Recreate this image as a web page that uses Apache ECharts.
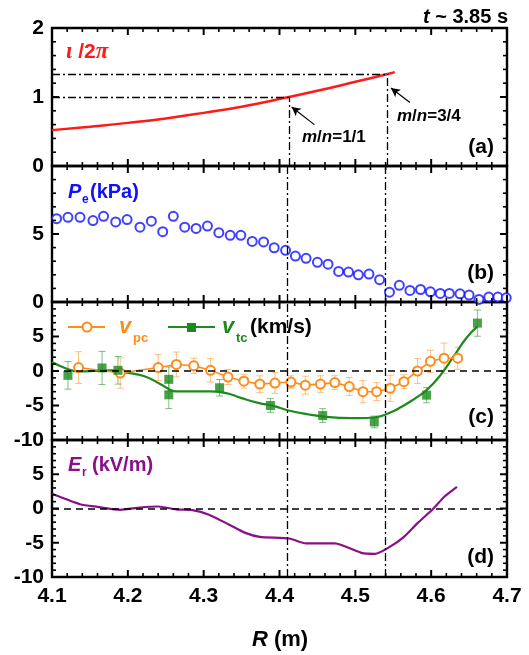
<!DOCTYPE html>
<html><head><meta charset="utf-8">
<script src="https://cdn.jsdelivr.net/npm/echarts@6/dist/echarts.min.js"></script>
<style>html,body{margin:0;padding:0;background:#fff}#c{width:529px;height:655px}</style>
</head><body><div id="c"></div>
<script>
// ---------- data ----------
const xTickLabels = ['4.1','4.2','4.3','4.4','4.5','4.6','4.7'];
const xRange = [4.1, 4.7, 0.1];
// (a) rotational transform
const iotaR = [4.10, 4.15, 4.20, 4.25, 4.30, 4.35, 4.4125, 4.45, 4.50, 4.5425, 4.552];
const iotaV = [0.52, 0.57, 0.625, 0.69, 0.77, 0.86, 1.00, 1.09, 1.22, 1.333, 1.36];
// rational surfaces m/n = 1/1 and 3/4
const surfR = [4.4125, 4.5425];
const surfIota = [1, 4/3];
// arrows (tail -> tip) in panel (a)
const arrowTail = [[4.446, 0.60], [4.572, 0.92]];
const arrowTip  = [[4.416, 0.856], [4.547, 1.13]];
// (b) electron pressure
const peR = [4.106,4.121,4.137,4.154,4.168,4.184,4.199,4.216,4.231,4.246,4.260,4.275,4.290,4.305,4.320,4.335,4.349,4.364,4.379,4.393,4.408,4.421,4.435,4.450,4.464,4.478,4.491,4.504,4.518,4.532,4.545,4.558,4.572,4.586,4.599,4.612,4.624,4.638,4.650,4.663,4.676,4.688,4.699];
const peV = [6.13,6.23,6.23,5.99,6.30,5.89,6.06,5.50,5.94,5.17,6.30,5.50,5.41,5.58,5.10,4.90,4.90,4.45,4.42,3.99,3.80,3.38,3.21,2.92,2.78,2.25,2.20,2.00,2.05,1.64,0.72,1.23,0.85,0.92,0.75,0.63,0.63,0.60,0.51,0.19,0.36,0.36,0.31];
// (c) poloidal velocity
const vpcR = [4.135,4.190,4.240,4.264,4.287,4.309,4.332,4.353,4.374,4.394,4.415,4.434,4.454,4.473,4.492,4.510,4.528,4.546,4.564,4.582,4.599,4.617,4.635];
const vpcV = [0.5,-0.3,0.5,0.95,0.75,0.1,-0.87,-1.48,-1.9,-1.75,-1.6,-2.05,-1.9,-1.68,-2.25,-3.0,-3.0,-2.5,-1.55,0.0,1.4,1.85,1.85];
const vpcE = [2.3,2.2,1.9,1.8,1.1,1.7,1.1,1.0,1.2,1.5,0.9,1.3,1.2,1.0,1.3,1.6,1.3,1.9,1.0,1.8,1.6,2.2,1.6];
// (c) toroidal velocity points and fit
const vtcR = [4.121,4.166,4.187,4.254,4.254,4.321,4.388,4.457,4.525,4.594,4.661];
const vtcV = [-0.63,0.44,0.1,-1.21,-3.45,-2.43,-5.0,-6.46,-7.38,-3.5,6.94];
const vtcE = [2.0,2.4,2.0,1.8,2.0,1.2,1.0,1.0,0.85,1.1,1.9];
const vtcFitR = [4.100,4.117,4.134,4.156,4.178,4.199,4.221,4.242,4.255,4.264,4.285,4.307,4.328,4.350,4.372,4.393,4.412,4.439,4.461,4.482,4.504,4.526,4.543,4.561,4.578,4.595,4.613,4.630,4.647,4.661];
const vtcFitV = [1.31,0.44,-0.05,0.0,0.1,-0.24,-0.73,-1.84,-2.67,-2.96,-2.96,-2.96,-3.16,-3.93,-4.61,-5.1,-5.73,-6.31,-6.65,-6.80,-6.84,-6.70,-6.17,-5.19,-4.03,-2.67,-0.49,2.18,4.85,6.46];
// (d) radial electric field
const erR = [4.100,4.137,4.160,4.190,4.216,4.240,4.264,4.285,4.307,4.333,4.354,4.374,4.413,4.435,4.473,4.509,4.526,4.541,4.563,4.582,4.603,4.617,4.634];
const erV = [2.14,0.62,0.24,-0.19,0.14,0.29,-0.14,-0.24,-0.90,-2.33,-3.52,-4.14,-4.38,-5.10,-5.10,-6.52,-6.62,-5.90,-4.24,-2.14,0.0,1.67,3.14];
// y axes: [min, max, interval]
const yRanges = [[0,2,1],[0,10,5],[-10,10,5],[-10,10,5]];

// ---------- styling ----------
const FONT = '"Liberation Sans", Arial, Helvetica, sans-serif';
const SERIF = '"Liberation Serif", "DejaVu Serif", serif';
const RED = '#ff1a1a', BLUE = '#1010ff', ORANGE = '#ff8c1a', GREEN = '#1c8a1c', PURPLE = '#8a108a';
const gridBox = [
  {left:52, width:455, top:28, height:138},
  {left:52, width:455, top:166, height:136},
  {left:52, width:455, top:302, height:138},
  {left:52, width:455, top:440, height:137}
].map(g=>Object.assign(g,{show:true, borderColor:'#000', borderWidth:2.4, backgroundColor:'transparent'}));
const zip = (a,b) => a.map((v,k)=>[v,b[k]]);
const zip3 = (a,b,c) => a.map((v,k)=>[v,b[k],c[k]]);

const xAxes = [], yAxes = [];
gridBox.forEach((g,i)=>{
  xAxes.push({type:'value', gridIndex:i, position:'bottom', min:xRange[0], max:xRange[1], interval:xRange[2],
    axisLine:{show:false, onZero:false}, axisTick:{show:false}, minorTick:{show:false}, splitLine:{show:false},
    axisLabel:{show: i===3, margin:9, color:'#000', fontFamily:FONT, fontWeight:'bold', fontSize:21,
      formatter:v=>{const k=Math.round((v-xRange[0])/xRange[2]); return xTickLabels[k]||'';}}});
  const [mn,mx,iv] = yRanges[i];
  yAxes.push({type:'value', gridIndex:i, position:'left', min:mn, max:mx, interval:iv,
    axisLine:{show:false, onZero:false}, axisTick:{show:false}, minorTick:{show:false}, splitLine:{show:false},
    axisLabel:{show:true, margin:8, color:'#000', fontFamily:FONT, fontWeight:'bold', fontSize:21,
      showMaxLabel: i===0, showMinLabel:true}});
});

const dashDot = {type:[8,3,2,3], color:'#000', width:1.3};
const zeroDash = {type:[7,5], color:'#000', width:1.6};
const vLines = {silent:true, symbol:'none', label:{show:false}, lineStyle:dashDot, animation:false,
  data: surfR.map(r=>({xAxis:r}))};
function vLinesPlusZero(){
  return {silent:true, symbol:'none', label:{show:false}, animation:false,
    data: [...surfR.map(r=>({xAxis:r, lineStyle:dashDot})), {yAxis:0, lineStyle:zeroDash}]};
}
function errSeries(gi, R, V, E, color){
  return {type:'custom', xAxisIndex:gi, yAxisIndex:gi, z:1, silent:true, animation:false,
    data: zip3(R,V,E),
    renderItem:(p,api)=>{
      const x=api.value(0), y=api.value(1), e=api.value(2);
      const t=api.coord([x,y+e]), b=api.coord([x,y-e]); const w=3.5;
      const st={stroke:color, lineWidth:1};
      return {type:'group', children:[
        {type:'line', shape:{x1:t[0],y1:t[1],x2:b[0],y2:b[1]}, style:st},
        {type:'line', shape:{x1:t[0]-w,y1:t[1],x2:t[0]+w,y2:t[1]}, style:st},
        {type:'line', shape:{x1:b[0]-w,y1:b[1],x2:b[0]+w,y2:b[1]}, style:st}]};
    }};
}

const series = [
  // (a)
  {type:'line', xAxisIndex:0, yAxisIndex:0, data:zip(iotaR,iotaV), smooth:true, showSymbol:false,
   lineStyle:{color:RED, width:2.5}, z:3,
   markLine:{silent:true, symbol:'none', label:{show:false}, lineStyle:dashDot, animation:false,
     data:[
       [{coord:[surfR[0],0]},{coord:[surfR[0],surfIota[0]]}],
       [{coord:[xRange[0],surfIota[0]]},{coord:[surfR[0],surfIota[0]]}],
       [{coord:[surfR[1],0]},{coord:[surfR[1],surfIota[1]]}],
       [{coord:[xRange[0],surfIota[1]]},{coord:[surfR[1],surfIota[1]]}]
     ]}},
  {type:'line', xAxisIndex:0, yAxisIndex:0, data:[], showSymbol:false,
   markLine:{silent:true, symbol:['none','arrow'], symbolSize:[7,9], label:{show:false}, animation:false,
     lineStyle:{type:'solid', color:'#000', width:1.2},
     data: arrowTail.map((t,k)=>[{coord:t},{coord:arrowTip[k]}])}},
  // (b)
  {type:'scatter', xAxisIndex:1, yAxisIndex:1, data:zip(peR,peV), symbol:'circle', symbolSize:9,
   itemStyle:{color:'#fff', borderColor:BLUE, borderWidth:2}, z:3, markLine:vLines},
  // (c)
  errSeries(2, vpcR, vpcV, vpcE, 'rgba(255,140,30,0.55)'),
  errSeries(2, vtcR, vtcV, vtcE, 'rgba(30,140,30,0.55)'),
  {type:'line', xAxisIndex:2, yAxisIndex:2, data:zip(vpcR,vpcV), symbol:'circle', symbolSize:9,
   lineStyle:{color:ORANGE, width:1.6}, itemStyle:{color:'#fff', borderColor:ORANGE, borderWidth:2}, z:3,
   markLine:vLinesPlusZero()},
  {type:'line', xAxisIndex:2, yAxisIndex:2, data:zip(vtcFitR,vtcFitV), smooth:true, showSymbol:false,
   lineStyle:{color:GREEN, width:2.2}, z:2},
  {type:'scatter', xAxisIndex:2, yAxisIndex:2, data:zip(vtcR,vtcV), symbol:'rect', symbolSize:9,
   itemStyle:{color:GREEN}, z:4},
  // (d)
  {type:'line', xAxisIndex:3, yAxisIndex:3, data:zip(erR,erV), smooth:0.2, showSymbol:false,
   lineStyle:{color:PURPLE, width:2.2}, z:3, markLine:vLinesPlusZero()}
];

function txt(x,y,text,opt){
  return {type:'text', x, y, silent:true, z:10,
    style:Object.assign({text, fill:'#000', font:'bold 21px '+FONT, align:'left', verticalAlign:'middle'}, opt||{})};
}
const graphic = [
  txt(508,17,'{i|t} ~ 3.85 s',{align:'right', font:'bold 20px '+FONT,
    rich:{i:{fontStyle:'italic', fontWeight:'bold', fontSize:20, fontFamily:FONT}}}),
  txt(66,52,'{s|ι} {b|/2}{s|π}',{fill:RED, font:'bold 21px '+FONT,
    rich:{s:{fontFamily:SERIF, fontStyle:'italic', fontWeight:'bold', fontSize:23, fill:RED},
          b:{fontFamily:FONT, fontWeight:'bold', fontSize:21, fill:RED}}}),
  txt(302,137,'{i|m}/{i|n}=1/1',{font:'bold 17px '+FONT, rich:{i:{fontStyle:'italic', fontWeight:'bold', fontSize:17, fontFamily:FONT}}}),
  txt(397,116,'{i|m}/{i|n}=3/4',{font:'bold 17px '+FONT, rich:{i:{fontStyle:'italic', fontWeight:'bold', fontSize:17, fontFamily:FONT}}}),
  txt(494,147,'(a)',{align:'right'}),
  txt(494,273,'(b)',{align:'right'}),
  txt(494,417,'(c)',{align:'right'}),
  txt(494,557,'(d)',{align:'right'}),
  txt(68,192,'P',{fill:BLUE, font:'italic bold 20px '+FONT}),
  txt(82,200,'e',{fill:BLUE, font:'bold 12px '+FONT}),
  txt(90,192,'(kPa)',{fill:BLUE, font:'bold 20px '+FONT}),
  txt(68,465,'E',{fill:PURPLE, font:'italic bold 20px '+FONT}),
  txt(82,473,'r',{fill:PURPLE, font:'bold 12px '+FONT}),
  txt(92,465,'(kV/m)',{fill:PURPLE, font:'bold 20px '+FONT}),
  {type:'line', shape:{x1:68,y1:327,x2:105,y2:327}, style:{stroke:ORANGE, lineWidth:2}, z:9, silent:true},
  {type:'circle', shape:{cx:87,cy:327,r:4.5}, style:{fill:'#fff', stroke:ORANGE, lineWidth:2}, z:10, silent:true},
  txt(119,327,'v',{fill:ORANGE, font:'italic bold 22px '+FONT}),
  txt(133,338,'pc',{fill:ORANGE, font:'bold 13px '+FONT}),
  {type:'line', shape:{x1:168,y1:327,x2:215,y2:327}, style:{stroke:GREEN, lineWidth:2.2}, z:9, silent:true},
  {type:'rect', shape:{x:187,y:323,width:9,height:9}, style:{fill:GREEN}, z:10, silent:true},
  txt(222,327,'v',{fill:GREEN, font:'italic bold 22px '+FONT}),
  txt(236,338,'tc',{fill:GREEN, font:'bold 13px '+FONT}),
  txt(250,327,'(km/s)',{font:'bold 21px '+FONT}),
  txt(280,640,'{i|R} (m)',{align:'center', font:'bold 22px '+FONT,
    rich:{i:{fontStyle:'italic', fontWeight:'bold', fontSize:22, fontFamily:FONT}}})
];

// inward tick marks on all four sides of every panel (axis decoration, from the panel layout)
gridBox.forEach((g,i)=>{
  const [ymin,ymax,yiv] = yRanges[i];
  const [xmin,xmax,xiv] = xRange;
  const x0=g.left, x1=g.left+g.width, y0=g.top, y1=g.top+g.height;
  const seg = (xa,ya,xb,yb,maj)=>graphic.push({type:'line', silent:true, z:50,
    shape:{x1:xa,y1:ya,x2:xb,y2:yb}, style:{stroke:'#000', lineWidth: maj?2:1.6}});
  const nx = Math.round((xmax-xmin)/xiv*5);
  for (let k=0;k<=nx;k++){
    const px = x0 + g.width*k/nx, maj = k%5===0, L = maj?7:4;
    seg(px,y1,px,y1-L,maj); seg(px,y0,px,y0+L,maj);
  }
  const ny = Math.round((ymax-ymin)/yiv*5);
  for (let k=0;k<=ny;k++){
    const py = y1 - g.height*k/ny, maj = k%5===0, L = maj?7:4;
    seg(x0,py,x0+L,py,maj); seg(x1,py,x1-L,py,maj);
  }
});

const chart = echarts.init(document.getElementById('c'), null, {renderer:'canvas'});
chart.setOption({
  animation:false, backgroundColor:'#fff',
  grid: gridBox,
  xAxis: xAxes, yAxis: yAxes,
  series, graphic
});
</script>
</body></html>
